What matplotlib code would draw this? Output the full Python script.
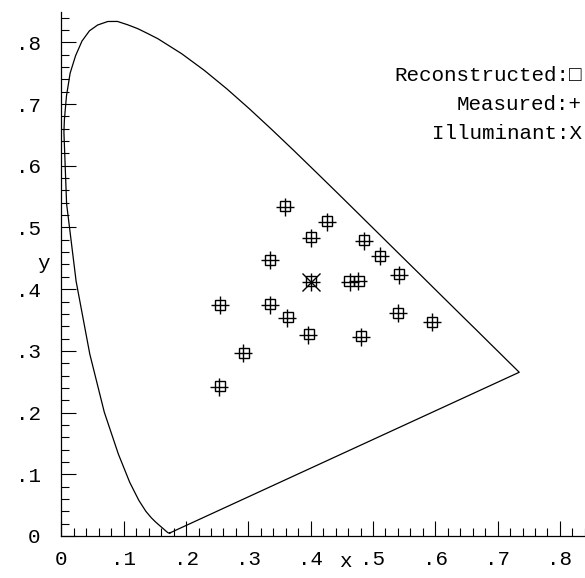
import matplotlib
matplotlib.use('Agg')
import matplotlib.pyplot as plt
from matplotlib.ticker import MultipleLocator

# CIE 1931 spectral locus, 380-700 nm (finer steps round the green peak)
locus_x = [0.1741, 0.1740, 0.1738, 0.1736, 0.1733, 0.1730, 0.1726, 0.1721,
           0.1714, 0.1703, 0.1689, 0.1669, 0.1644, 0.1611, 0.1566, 0.1510,
           0.1440, 0.1355, 0.1241, 0.1096, 0.0913, 0.0687, 0.0454, 0.0235,
           0.0082, 0.0039, 0.0047, 0.0080, 0.0139, 0.0226, 0.0329, 0.0449,
           0.0580, 0.0743, 0.0898, 0.1059, 0.1222, 0.1384, 0.1547, 0.1929,
           0.2296, 0.2658, 0.3016, 0.3373, 0.3731, 0.4087, 0.4441, 0.4788,
           0.5125, 0.5448, 0.5752, 0.6029, 0.6270, 0.6482, 0.6658, 0.6801,
           0.6915, 0.7006, 0.7079, 0.7140, 0.7190, 0.7230, 0.7260, 0.7283,
           0.7300, 0.7311, 0.7320, 0.7327, 0.7334, 0.7340, 0.7344, 0.7346,
           0.7347]
locus_y = [0.0050, 0.0050, 0.0049, 0.0049, 0.0048, 0.0048, 0.0048, 0.0048,
           0.0051, 0.0058, 0.0069, 0.0086, 0.0109, 0.0138, 0.0177, 0.0227,
           0.0297, 0.0399, 0.0578, 0.0868, 0.1327, 0.2007, 0.2950, 0.4127,
           0.5384, 0.6548, 0.6749, 0.7130, 0.7502, 0.7783, 0.8021, 0.8187,
           0.8281, 0.8338, 0.8339, 0.8286, 0.8223, 0.8143, 0.8059, 0.7816,
           0.7543, 0.7243, 0.6923, 0.6589, 0.6245, 0.5896, 0.5547, 0.5202,
           0.4866, 0.4544, 0.4242, 0.3965, 0.3725, 0.3514, 0.3340, 0.3197,
           0.3083, 0.2993, 0.2920, 0.2859, 0.2809, 0.2770, 0.2740, 0.2717,
           0.2700, 0.2689, 0.2680, 0.2673, 0.2666, 0.2660, 0.2656, 0.2654,
           0.2653]

# measured and reconstructed chromaticities of the samples
meas_x = [0.253, 0.254, 0.292, 0.334, 0.335, 0.362, 0.359, 0.400, 0.400, 0.396,
          0.426, 0.463, 0.476, 0.486, 0.511, 0.480, 0.542, 0.540, 0.595]
meas_y = [0.242, 0.374, 0.296, 0.374, 0.447, 0.354, 0.533, 0.483, 0.412, 0.325,
          0.509, 0.412, 0.413, 0.478, 0.453, 0.322, 0.423, 0.361, 0.346]
recon_x = [0.254, 0.255, 0.293, 0.335, 0.335, 0.363, 0.359, 0.401, 0.401, 0.397,
           0.426, 0.462, 0.477, 0.486, 0.511, 0.480, 0.542, 0.540, 0.595]
recon_y = [0.243, 0.375, 0.297, 0.376, 0.448, 0.355, 0.534, 0.484, 0.413, 0.327,
           0.510, 0.413, 0.414, 0.479, 0.454, 0.324, 0.424, 0.362, 0.347]
illum_x = [0.400]
illum_y = [0.412]

tick_vals = [0, 0.1, 0.2, 0.3, 0.4, 0.5, 0.6, 0.7, 0.8]
tick_labels = ['0', '.1', '.2', '.3', '.4', '.5', '.6', '.7', '.8']
legend_lines = ['Reconstructed:\u25a1', 'Measured:+', 'Illuminant:X']

font = 'Liberation Mono'
fs = 15

fig = plt.figure(figsize=(5.85, 5.78), dpi=100)
ax = fig.add_axes([0.1051, 0.0727, 0.8946, 0.9074])

ax.plot(locus_x + locus_x[:1], locus_y + locus_y[:1], color='black', lw=0.9,
        solid_joinstyle='round')
ax.plot(recon_x, recon_y, ls='none', marker='s', ms=7.5, mfc='none',
        mec='black', mew=1.0)
ax.plot(meas_x, meas_y, ls='none', marker='+', ms=13, mec='black', mew=1.0)
ax.plot(illum_x, illum_y, ls='none', marker='x', ms=13, mec='black', mew=1.0)

ax.set_xlim(0, 0.84)
ax.set_ylim(0, 0.85)
ax.spines['top'].set_visible(False)
ax.spines['right'].set_visible(False)
for s in ('left', 'bottom'):
    ax.spines[s].set_linewidth(0.9)

ax.set_xticks(tick_vals)
ax.set_yticks(tick_vals)
ax.set_xticklabels(tick_labels, fontfamily=font, fontsize=fs)
ax.set_yticklabels(tick_labels, fontfamily=font, fontsize=fs)
ax.xaxis.set_minor_locator(MultipleLocator(0.02))
ax.yaxis.set_minor_locator(MultipleLocator(0.02))
ax.tick_params(which='major', direction='in', length=10.8, width=0.8)
ax.tick_params(which='minor', direction='in', length=5.8, width=0.8)
ax.tick_params(axis='x', which='major', pad=10)
ax.tick_params(axis='y', which='major', pad=15)

ax.set_xlabel('x', fontfamily=font, fontsize=fs)
ax.xaxis.set_label_coords(0.542, -0.03)
ax.set_ylabel('y', fontfamily=font, fontsize=fs, rotation=0, va='center')
ax.yaxis.set_label_coords(-0.035, 0.52)

for i, txt in enumerate(legend_lines):
    fig.text(0.995, 0.870 - i * 0.0505, txt, ha='right', va='center',
             fontfamily=font, fontsize=fs)

fig.savefig('out.png', dpi=100, facecolor='white')
